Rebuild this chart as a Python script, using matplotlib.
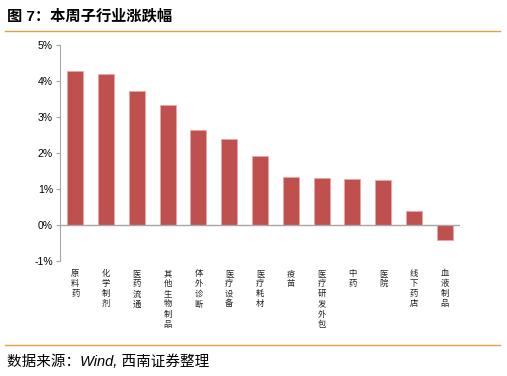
import matplotlib
matplotlib.use("Agg")
import matplotlib.pyplot as plt
from matplotlib.ticker import FuncFormatter, MultipleLocator

plt.rcParams['font.family'] = ['Liberation Sans', 'Noto Sans CJK SC']

categories = ["原料药", "化学制剂", "医药流通", "其他生物制品", "体外诊断", "医疗设备",
              "医疗耗材", "疫苗", "医疗研发外包", "中药", "医院", "线下药店", "血液制品"]
values = [4.28, 4.19, 3.72, 3.33, 2.64, 2.40, 1.91, 1.32, 1.31, 1.28, 1.24, 0.38, -0.42]

title = "图 7：本周子行业涨跌幅"
source = "数据来源：Wind, 西南证券整理"

W, H = 507, 376
fig = plt.figure(figsize=(W / 100, H / 100), dpi=100)
ax = fig.add_axes([60 / W, 1 - 261 / H, 400 / W, 216 / H])

x = list(range(len(categories)))
ax.bar(x, values, width=0.52, color="#C0504D", edgecolor="#E8A8A6", linewidth=0.6, zorder=2)
ax.set_xlim(-0.5, len(categories) - 0.5)
ax.set_ylim(-1, 5)
ax.axhline(0, color="#A6A6A6", linewidth=1.0, zorder=3)

ax.yaxis.set_major_locator(MultipleLocator(1))
ax.yaxis.set_major_formatter(FuncFormatter(lambda v, p: f"{v:.0f}%"))
for s in ["top", "right", "bottom"]:
    ax.spines[s].set_visible(False)
ax.spines["left"].set_color("#A6A6A6")
ax.spines["left"].set_linewidth(0.8)
ax.tick_params(axis="y", direction="out", length=3, width=0.8, color="#A6A6A6",
               labelsize=7.5, pad=2, labelcolor="#000000")
ax.set_xticks(x)
ax.set_xticklabels(["\n".join(c) for c in categories], fontsize=6,
                   family=['Noto Sans CJK SC'], linespacing=1.15, va="top",
                   color="#222222")
ax.tick_params(axis="x", length=0, pad=6)

# header and footer
fig.text(7 / W, 1 - 16 / H, title, fontsize=11, fontweight="bold",
         family=['Liberation Sans', 'Noto Sans CJK SC'], va="center", ha="left")
fig.add_artist(plt.Line2D([5 / W, 500 / W], [1 - 30.5 / H, 1 - 30.5 / H],
                          color="#E0A048", linewidth=1.0))
fig.add_artist(plt.Line2D([5 / W, 500 / W], [1 - 345 / H, 1 - 345 / H],
                          color="#E0A048", linewidth=1.0))
fig.text(7 / W, 1 - 362 / H, source, fontsize=10.5, fontstyle="italic",
         family=['Liberation Sans', 'Noto Sans CJK SC'], va="center", ha="left")

fig.savefig("out.png", dpi=100)
